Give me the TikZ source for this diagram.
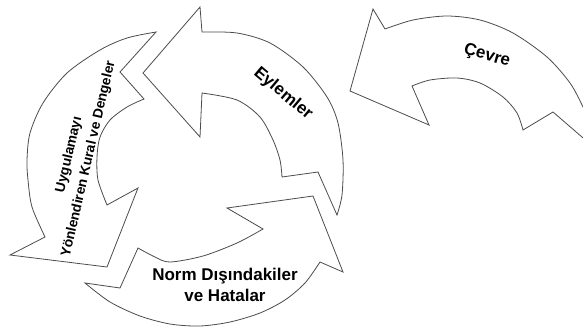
\documentclass[tikz,border=0pt]{standalone}
\usepackage{fontspec}
\setmainfont{Liberation Sans}
\begin{document}
\begin{tikzpicture}[x=1pt,y=-1pt,
  blockarrow/.style={draw=black!70, line width=0.8pt, line join=miter, fill=white},
  lbl/.style={font=\bfseries\fontsize{17}{20.5}\selectfont, align=center, text=black, inner sep=0pt}]
\useasboundingbox (0,0) rectangle (583,332);

% Eylemler: rises on the right, head points left at the top
\draw[blockarrow] (202,32) -- (200,7) -- (143,73) -- (200,137) -- (202,93)
  -- plot[smooth] coordinates {(202,93) (237,100) (260,117) (273,140) (280,160) (282,177)}
  -- (318,172) -- (337,215)
  -- plot[smooth] coordinates {(337,215) (342,195) (343,160) (338,123) (327,97) (303,67) (270,43) (237,33) (202,32)}
  -- cycle;

% Rules and balances: runs down the left side
\draw[blockarrow] (156,32) -- (120,72) -- (144,99)
  -- plot[smooth] coordinates {(144,99) (127,107) (110,120) (100,137) (97,157) (98,180) (107,205)}
  -- (138,188) -- (107,267) -- (10,255) -- (45,237)
  -- plot[smooth] coordinates {(45,237) (32,207) (28,180) (27,160) (30,133) (43,103) (67,73) (100,50) (127,38) (156,32)}
  -- cycle;

% Exceptions and errors: runs along the bottom, head points up-right
\draw[blockarrow] (85,283) -- (120,288) -- (138,248)
  -- plot[smooth] coordinates {(138,248) (155,257) (170,262) (203,256) (237,243) (263,229)}
  -- (227,208) -- (313,196) -- (343,272) -- (320,262)
  -- plot[smooth] coordinates {(320,262) (305,283) (285,300) (260,313) (230,322) (200,326) (170,324) (140,316) (110,302) (85,283)}
  -- cycle;

% Environment: separate arrow, its tail runs off the right edge
\begin{scope}
  \clip (0,0) rectangle (583,332);
  \draw[blockarrow] (385,29) -- (373,9) -- (350,91) -- (429,125) -- (412,86)
    -- plot[smooth] coordinates {(412,86) (430,80) (457,78) (480,83) (503,97) (517,113) (523,130)}
    -- (553,112) -- (597,150)
    -- plot[smooth] coordinates {(597,150) (592,128) (583,107) (570,83) (547,57) (513,33) (480,20) (447,16) (413,20) (385,29)}
    -- cycle;
\end{scope}

% Labels
\node[lbl, rotate=-40] (eylem) at (283,94) {Eylemler};
\node[lbl, rotate=77, font=\bfseries\fontsize{13.8}{20}\selectfont] (kural) at (79,157)
  {Uygulamayı\\Yönlendiren Kural ve Dengeler};
\node[lbl] (norm) at (225,285) {Norm Dışındakiler\\ve Hatalar};
\node[lbl, rotate=-16] (cevre) at (487,56) {Çevre};
\end{tikzpicture}
\end{document}
